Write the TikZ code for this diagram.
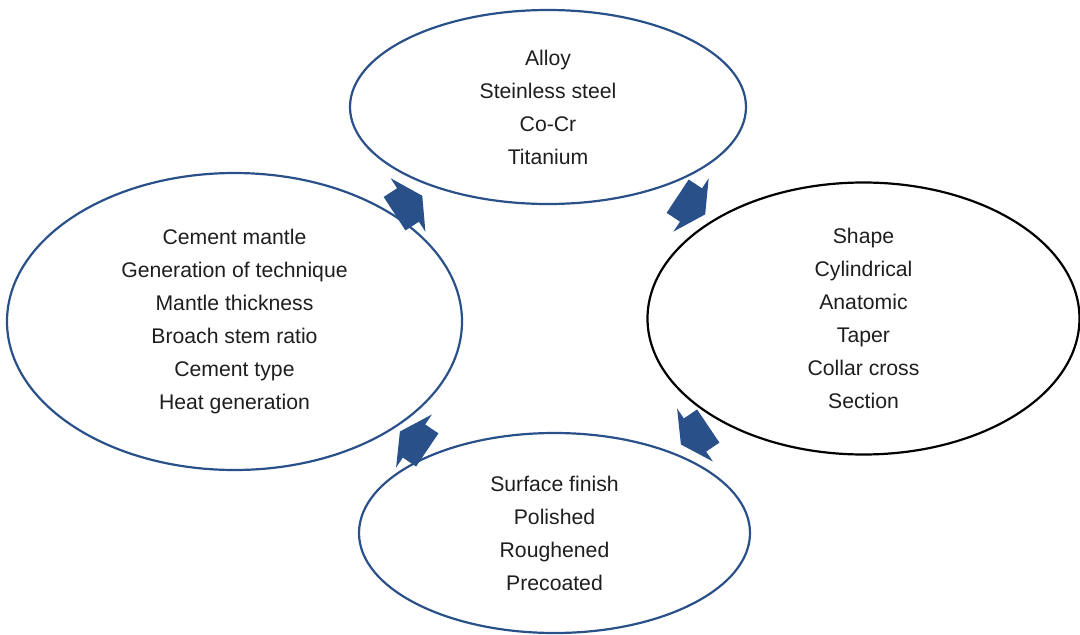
\documentclass[tikz,border=0pt]{standalone}
\usepackage{fontspec}
\setmainfont{Liberation Sans}
\usetikzlibrary{shapes.geometric}
\definecolor{ovalblue}{RGB}{42,80,138}
\definecolor{textgray}{RGB}{30,30,30}

\begin{document}
\begin{tikzpicture}[x=1pt,y=1pt,
  oval/.style={draw=ovalblue,line width=2.2pt,ellipse,inner sep=0pt,align=center,
    text=textgray,font=\fontsize{21.2}{33}\selectfont},
  flow/.style={fill=ovalblue}]
  \useasboundingbox (0,0) rectangle (1080,-635);
  \node[oval,minimum width=396,minimum height=194] (alloy) at (548,-107) {Alloy\\Steinless steel\\Co-Cr\\Titanium};
  \node[oval,minimum width=455,minimum height=297] (cement) at (234.5,-321.5) {Cement mantle\\Generation of technique\\Mantle thickness\\Broach stem ratio\\Cement type\\Heat generation};
  \node[oval,draw=black,minimum width=432,minimum height=272] (shape) at (863.5,-318.5) {Shape\\Cylindrical\\Anatomic\\Taper\\Collar cross\\Section};
  \node[oval,minimum width=391,minimum height=200] (surface) at (554.5,-533) {Surface finish\\Polished\\Roughened\\Precoated};
  % block arrows round the cycle
  \fill[flow,shift={(408,-205)},rotate=33] (-16,20) -- (0,20) -- (0,32) -- (17,0) -- (0,-32) -- (0,-20) -- (-16,-20) -- cycle;
  \fill[flow,shift={(691,-205)},rotate=-33.5] (-16,20) -- (0,20) -- (0,32) -- (17,0) -- (0,-32) -- (0,-20) -- (-16,-20) -- cycle;
  \fill[flow,shift={(695,-435)},rotate=214] (-16,20) -- (0,20) -- (0,32) -- (17,0) -- (0,-32) -- (0,-20) -- (-16,-20) -- cycle;
  \fill[flow,shift={(414,-441)},rotate=146] (-16,20) -- (0,20) -- (0,32) -- (17,0) -- (0,-32) -- (0,-20) -- (-16,-20) -- cycle;
\end{tikzpicture}
\end{document}
